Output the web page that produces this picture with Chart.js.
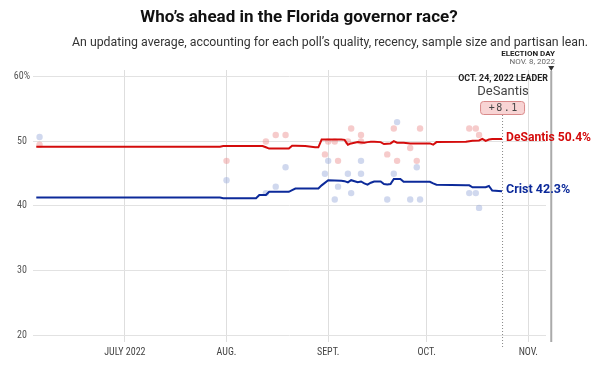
<!DOCTYPE html>
<html>
<head>
<meta charset="utf-8">
<script src="https://cdn.jsdelivr.net/npm/chart.js@4"></script>
<style>
  html, body { margin: 0; background: #fff; }
</style>
</head>
<body>
<canvas id="chart" width="600" height="366"></canvas>
<script>
// --- polling average (daily steps) ---
const avgDates = ['2022-06-04','2022-07-30','2022-07-31','2022-08-10','2022-08-11','2022-08-12','2022-08-13','2022-08-14',
  '2022-08-20','2022-08-21','2022-08-22','2022-08-25','2022-08-28','2022-08-29','2022-08-30','2022-09-01','2022-09-05',
  '2022-09-06','2022-09-07','2022-09-08','2022-09-10','2022-09-11','2022-09-12','2022-09-13','2022-09-14','2022-09-15',
  '2022-09-17','2022-09-18','2022-09-19','2022-09-20','2022-09-21','2022-09-22','2022-09-23','2022-09-24','2022-09-26',
  '2022-10-02','2022-10-03','2022-10-04','2022-10-13','2022-10-14','2022-10-15','2022-10-17','2022-10-18','2022-10-19',
  '2022-10-20','2022-10-21','2022-10-24'];
const desantisAvg = [49.2,49.2,49.3,49.3,49.3,49.3,49.1,48.9,
  48.9,49.35,49.35,49.3,49.1,49.1,50.3,50.3,50.3,
  50.25,49.5,49.7,49.9,49.85,49.8,49.9,49.95,49.95,
  49.9,49.6,49.65,49.7,50.05,49.8,49.8,49.8,49.7,
  49.7,49.5,49.9,49.95,50.05,50.1,50.15,50.4,50.1,
  50.3,50.4,50.4];
const cristAvg = [41.3,41.3,41.2,41.2,41.7,41.7,41.7,42.2,
  42.2,42.45,42.7,42.7,42.7,42.7,43.2,44.0,43.9,
  43.85,43.65,44.0,43.7,43.8,43.5,43.3,43.6,43.8,
  43.8,43.4,43.35,43.4,44.2,44.2,44.2,43.75,43.75,
  43.75,43.5,43.3,43.2,43.2,42.9,42.9,42.9,42.9,
  43.1,42.4,42.3];

// --- individual polls ---
const pollDates = ['2022-06-05','2022-08-01','2022-08-13','2022-08-16','2022-08-19','2022-08-31','2022-09-01','2022-09-03',
  '2022-09-04','2022-09-07','2022-09-08','2022-09-11','2022-09-11','2022-09-19','2022-09-21','2022-09-22','2022-09-26',
  '2022-09-28','2022-09-29','2022-10-14','2022-10-16','2022-10-17'];
const desantisPolls = [49.5,47,50,51,51,48,50,50,47,50,52,51,50,48,52,47,49,47,52,52,52,51];
const cristPolls = [50.7,44,42,43,46,45,47,41,43,45,42,47,45,41,45,53,41,46,41,42,42,39.7];

// --- axes ---
const monthTicks = ['2022-07-01','2022-08-01','2022-09-01','2022-10-01','2022-11-01'];
const monthLabels = ['JULY 2022','AUG.','SEPT.','OCT.','NOV.'];
const yTicks = [20, 30, 40, 50, 60];
const leaderDate = '2022-10-24';
const electionDate = '2022-11-08';
const leaderMargin = '+8.1';

const RED = '#d40c0c';
const BLUE = '#0c2a9a';
const tickFont = "'Liberation Sans Narrow', 'Roboto Condensed', Roboto, sans-serif";
const textFont = "Roboto, 'Liberation Sans', sans-serif";

// day number counted from July 1, 2022
function day(s) {
    const [y, m, d] = s.split('-').map(Number);
    return (Date.UTC(y, m - 1, d) - Date.UTC(2022, 6, 1)) / 864e5;
}
const pts = (dates, vals) => dates.map((d, i) => ({ x: day(d), y: vals[i] }));

const annotations = {
    id: 'annotations',
    afterDraw(chart) {
        const ctx = chart.ctx;
        const xs = chart.scales.x, ys = chart.scales.y;
        ctx.save();

        // headings
        ctx.fillStyle = '#111';
        ctx.textAlign = 'center';
        ctx.textBaseline = 'middle';
        ctx.font = `bold 17px ${textFont}`;
        ctx.fillText('Who’s ahead in the Florida governor race?', 299, 18, 332);
        ctx.fillStyle = '#333';
        ctx.font = `12.5px ${textFont}`;
        ctx.fillText('An updating average, accounting for each poll’s quality, recency, sample size and partisan lean.', 330, 43, 516);

        // election day marker
        const ex = xs.getPixelForValue(day(electionDate));
        ctx.textAlign = 'right';
        ctx.fillStyle = '#222';
        ctx.font = `bold 8px ${textFont}`;
        ctx.fillText('ELECTION DAY', 555, 54);
        ctx.fillStyle = '#666';
        ctx.font = `8px ${textFont}`;
        ctx.fillText('NOV. 8, 2022', 555, 62);
        ctx.fillStyle = '#333';
        ctx.beginPath();
        ctx.moveTo(ex - 3, 66); ctx.lineTo(ex + 3, 66); ctx.lineTo(ex, 71); ctx.closePath();
        ctx.fill();
        ctx.strokeStyle = '#aaa';
        ctx.lineWidth = 2;
        ctx.beginPath();
        ctx.moveTo(ex, 71); ctx.lineTo(ex, ys.bottom + 7);
        ctx.stroke();

        // leader marker
        const lx = xs.getPixelForValue(day(leaderDate));
        ctx.strokeStyle = '#888';
        ctx.lineWidth = 1;
        ctx.setLineDash([1, 2]);
        ctx.beginPath();
        ctx.moveTo(lx + 0.5, 115); ctx.lineTo(lx + 0.5, ys.bottom + 12);
        ctx.stroke();
        ctx.setLineDash([]);

        ctx.textAlign = 'center';
        ctx.fillStyle = '#222';
        ctx.font = `bold 8.8px ${textFont}`;
        ctx.fillText('OCT. 24, 2022 LEADER', lx + 1, 79, 92);
        ctx.fillStyle = '#444';
        ctx.font = `13px ${textFont}`;
        ctx.fillText('DeSantis', lx + 1, 92);

        ctx.fillStyle = '#f8d4d4';
        ctx.strokeStyle = '#d98a8a';
        ctx.beginPath();
        ctx.roundRect(lx - 21.5, 101.5, 44, 13, 3);
        ctx.fill(); ctx.stroke();
        ctx.fillStyle = '#444';
        ctx.font = `10px 'DejaVu Sans Mono', monospace`;
        // spaced-out digits like the reference badge
        const chars = leaderMargin.split('');
        const step = 7.5;
        chars.forEach((c, i) => ctx.fillText(c, lx + 1 + (i - (chars.length - 1) / 2) * step, 108.5));

        // end labels
        const lastR = desantisAvg[desantisAvg.length - 1];
        const lastC = cristAvg[cristAvg.length - 1];
        ctx.textAlign = 'left';
        ctx.font = `bold 12.5px ${textFont}`;
        ctx.fillStyle = RED;
        ctx.fillText(`DeSantis ${lastR}%`, lx + 4, ys.getPixelForValue(lastR) - 1, 85);
        ctx.fillStyle = BLUE;
        ctx.fillText(`Crist ${lastC}%`, lx + 4, ys.getPixelForValue(lastC) - 1, 68);
        ctx.restore();
    }
};

new Chart(document.getElementById('chart'), {
    data: {
        datasets: [
            { type: 'line', data: pts(avgDates, desantisAvg), borderColor: RED, borderWidth: 2, pointRadius: 0, order: 0 },
            { type: 'line', data: pts(avgDates, cristAvg), borderColor: BLUE, borderWidth: 2, pointRadius: 0, order: 0 },
            { type: 'scatter', data: pts(pollDates, desantisPolls), backgroundColor: 'rgba(236,140,140,0.45)', pointRadius: 3.2, borderWidth: 0, order: 1 },
            { type: 'scatter', data: pts(pollDates, cristPolls), backgroundColor: 'rgba(150,168,218,0.45)', pointRadius: 3.2, borderWidth: 0, order: 1 }
        ]
    },
    options: {
        responsive: false,
        devicePixelRatio: 1,
        animation: false,
        layout: { padding: { top: 70, right: 54, left: 0, bottom: 0 } },
        plugins: { legend: { display: false }, tooltip: { enabled: false } },
        scales: {
            x: {
                type: 'linear',
                min: day('2022-06-03'),
                max: 128.4,
                afterBuildTicks: s => { s.ticks = monthTicks.map(d => ({ value: day(d) })); },
                afterFit: s => { s.height = 31; },
                grid: { color: '#dedede', tickLength: 7 },
                border: { display: false },
                ticks: {
                    autoSkip: false, maxRotation: 0, padding: 4,
                    color: '#444', font: { family: tickFont, size: 10 },
                    callback: (v, i) => monthLabels[i]
                }
            },
            y: {
                min: 20,
                max: 61.08,
                afterBuildTicks: s => { s.ticks = yTicks.map(v => ({ value: v })); },
                afterFit: s => { s.width = 33; },
                grid: { color: '#e2e2e2', drawTicks: false },
                border: { display: false },
                ticks: {
                    padding: 3, crossAlign: 'center',
                    color: '#555', font: { family: tickFont, size: 10 },
                    callback: v => v === 60 ? '60%' : String(v)
                }
            }
        }
    },
    plugins: [annotations]
});
</script>
</body>
</html>
